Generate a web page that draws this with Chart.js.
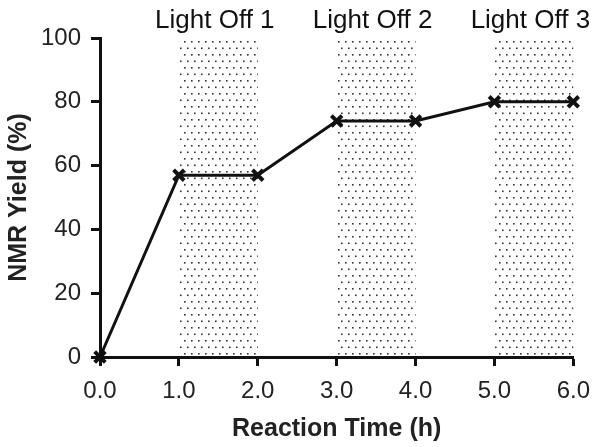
<!DOCTYPE html>
<html>
<head>
<meta charset="utf-8">
<script src="https://cdn.jsdelivr.net/npm/chart.js@4"></script>
<style>
  body { margin: 0; background: #fff; }
  #wrap { width: 601px; height: 447px; }
</style>
</head>
<body>
<div id="wrap"><canvas id="myChart"></canvas></div>
<script>
const times = [0, 1, 2, 3, 4, 5, 6];
const yields = [0, 57, 57, 74, 74, 80, 80];
const darkStarts = [1, 3, 5];
const darkLabels = ["Light Off 1", "Light Off 2", "Light Off 3"];
const yTicks = [0, 20, 40, 60, 80, 100];

const FONT = "'Liberation Sans', Arial, sans-serif";

// dotted fill for the dark periods
function makeDots() {
  const c = document.createElement("canvas");
  c.width = 7; c.height = 13;
  const x = c.getContext("2d");
  x.fillStyle = "#333";
  x.fillRect(2, 2, 1.6, 1.6);
  x.fillRect(5, 8.5, 1.6, 1.6);
  return c;
}

const shading = {
  id: "shading",
  beforeDatasetsDraw(chart) {
    const ctx = chart.ctx, xs = chart.scales.x, ys = chart.scales.y;
    const pat = ctx.createPattern(makeDots(), "repeat");
    ctx.save();
    darkStarts.forEach((s, i) => {
      const x0 = xs.getPixelForValue(s), x1 = xs.getPixelForValue(s + 1);
      const top = ys.getPixelForValue(100), bot = ys.getPixelForValue(0);
      ctx.fillStyle = pat;
      ctx.fillRect(x0, top, x1 - x0, bot - top);
      ctx.fillStyle = "#111";
      ctx.font = "26px " + FONT;
      ctx.textAlign = "center";
      ctx.textBaseline = "alphabetic";
      ctx.fillText(darkLabels[i], (x0 + x1) / 2 - 3.5, 28);
    });
    ctx.restore();
  }
};

new Chart(document.getElementById("myChart"), {
  type: "line",
  data: {
    datasets: [{
      data: times.map((t, i) => ({x: t, y: yields[i]})),
      borderColor: "#111",
      borderWidth: 3,
      pointStyle: "crossRot",
      pointRadius: 7.5,
      pointBorderWidth: 4,
      pointBorderColor: "#111",
      tension: 0,
      clip: false
    }]
  },
  options: {
    responsive: true,
    maintainAspectRatio: false,
    animation: false,
    layout: { padding: { top: 38, right: 27, left: 0, bottom: 0 } },
    plugins: { legend: { display: false }, tooltip: { enabled: false } },
    scales: {
      x: {
        type: "linear",
        min: 0, max: 6,
        afterFit: s => { s.height = 90; },
        afterBuildTicks: s => { s.ticks = times.map(v => ({value: v})); },
        border: { color: "#111", width: 3 },
        grid: { drawOnChartArea: false, drawTicks: true, tickLength: 9, tickColor: "#111", tickWidth: 3 },
        ticks: {
          color: "#222",
          padding: 11,
          font: { size: 24, family: FONT },
          callback: v => v.toFixed(1)
        },
        title: {
          display: true,
          text: "Reaction Time (h)",
          color: "#222",
          padding: { top: 0, bottom: 3 },
          font: { size: 25, weight: "bold", family: FONT }
        }
      },
      y: {
        min: 0, max: 100,
        afterFit: s => { s.width = 100; },
        afterBuildTicks: s => { s.ticks = yTicks.map(v => ({value: v})); },
        border: { color: "#111", width: 3 },
        grid: { drawOnChartArea: false, drawTicks: true, tickLength: 9, tickColor: "#111", tickWidth: 3 },
        ticks: {
          color: "#222",
          padding: 10,
          font: { size: 24, family: FONT }
        },
        title: {
          display: true,
          text: "NMR Yield (%)",
          color: "#222",
          padding: { bottom: 0 },
          font: { size: 25, weight: "bold", family: FONT }
        }
      }
    }
  },
  plugins: [shading]
});
</script>
</body>
</html>
